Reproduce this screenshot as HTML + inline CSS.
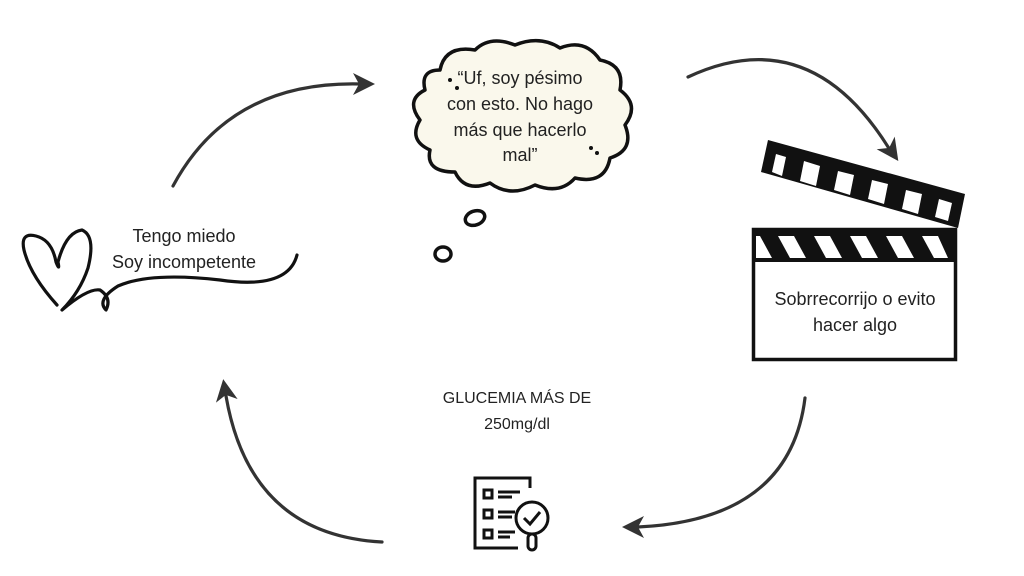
<!DOCTYPE html>
<html><head><meta charset="utf-8"><style>
html,body{margin:0;padding:0;background:#fff;}
svg{display:block;}
text{font-family:"Liberation Sans",sans-serif;fill:#222;}
</style></head><body>
<svg width="1024" height="576" viewBox="0 0 1024 576" xmlns="http://www.w3.org/2000/svg">
<g fill="none" stroke="#333" stroke-width="3.2" stroke-linecap="round">
<path d="M173,186 Q230,80 362,84"/>
<path d="M688,77 Q810,20 890,150"/>
<path d="M805,398 Q790,520 638,527"/>
<path d="M382,542 Q250,535 226,396"/>
</g>
<defs>
<marker id="ah2" markerWidth="22" markerHeight="22" refX="11" refY="11" orient="auto" markerUnits="userSpaceOnUse" viewBox="0 0 22 22">
<path d="M0,0 L22,11 L0,22 L6,11 Z" fill="#333"/>
</marker>
</defs>
<g fill="none" stroke="none">
<path d="M350,84 L364,84" marker-end="url(#ah2)"/>
<path d="M885,142 L892,152" marker-end="url(#ah2)"/>
<path d="M645,527 L633,527" marker-end="url(#ah2)"/>
<path d="M227,402 L225,390" marker-end="url(#ah2)"/>
</g>

<!-- cloud -->
<path d="M440,70 Q445,45 475,50 Q490,35 515,45 Q540,35 560,48 Q585,38 600,60 Q625,65 620,90 Q640,105 625,125 Q635,150 610,158 Q605,185 575,178 Q560,195 535,185 Q510,198 490,183 Q465,193 455,172 Q425,172 430,150 Q408,140 420,120 Q405,100 425,90 Q420,70 440,70 Z" fill="#faf8ec" stroke="#111" stroke-width="3.5" stroke-linejoin="round"/>
<ellipse cx="475" cy="218" rx="10" ry="7" fill="none" stroke="#111" stroke-width="3.5" transform="rotate(-20 475 218)"/>
<ellipse cx="443" cy="254" rx="8" ry="7" fill="none" stroke="#111" stroke-width="3.5"/>
<circle cx="450" cy="80" r="2" fill="#111"/><circle cx="457" cy="88" r="2" fill="#111"/>
<circle cx="591" cy="148" r="2" fill="#111"/><circle cx="597" cy="153" r="2" fill="#111"/>
<g font-size="18" text-anchor="middle">
<text x="520" y="84">“Uf, soy pésimo</text>
<text x="520" y="110">con esto. No hago</text>
<text x="520" y="136">más que hacerlo</text>
<text x="520" y="161">mal”</text>
</g>

<!-- clapper -->
<polygon points="768,140 965,194 958,228 761,172" fill="#111"/>
<g fill="#fff">
<polygon points="776,154 786,157 782,176 772,172"/>
<polygon points="804,161 820,166 816,186 800,181"/>
<polygon points="838,171 854,175 850,195 834,190"/>
<polygon points="872,180 888,184 884,204 868,199"/>
<polygon points="906,190 922,194 918,214 902,209"/>
<polygon points="939,199 952,203 948,221 935,217"/>
</g>
<rect x="753.5" y="229.5" width="202" height="130" fill="#fff" stroke="#111" stroke-width="3.5"/>
<rect x="752" y="228" width="205" height="34" fill="#111"/>
<g fill="#fff">
<polygon points="756,236 760,236 772,258 756,258"/>
<polygon points="778,236 794,236 806,258 790,258"/>
<polygon points="814,236 830,236 842,258 826,258"/>
<polygon points="850,236 866,236 878,258 862,258"/>
<polygon points="886,236 902,236 914,258 898,258"/>
<polygon points="922,236 938,236 948,258 934,258"/>
</g>
<g font-size="18" text-anchor="middle">
<text x="855" y="305">Sobrrecorrijo o evito</text>
<text x="855" y="331">hacer algo</text>
</g>

<!-- heart -->
<path d="M57,305 Q30,275 24,250 Q20,232 36,236 Q52,240 56,262 Q60,272 58,262 Q66,232 82,230 Q96,236 88,268 Q80,292 62,310 Q88,288 100,290 Q112,298 106,310 Q96,300 118,286 Q150,272 220,280 Q288,290 297,255" fill="none" stroke="#111" stroke-width="3.2" stroke-linecap="round" stroke-linejoin="round"/>
<g font-size="18" text-anchor="middle">
<text x="184" y="242">Tengo miedo</text>
<text x="184" y="268">Soy incompetente</text>
</g>

<!-- glucemia -->
<g font-size="16" text-anchor="middle">
<text x="517" y="403">GLUCEMIA MÁS DE</text>
<text x="517" y="429">250mg/dl</text>
</g>

<!-- checklist icon -->
<g fill="none" stroke="#111" stroke-width="3">
<path d="M530,488 L530,478 L475,478 L475,548 L518,548"/>
<rect x="484" y="490" width="8" height="8"/>
<rect x="484" y="510" width="8" height="8"/>
<rect x="484" y="530" width="8" height="8"/>
<path d="M498,492 L520,492 M498,497 L512,497 M498,512 L515,512 M498,517 L512,517 M498,532 L515,532 M498,537 L510,537"/>
<circle cx="532" cy="518" r="16"/>
<path d="M524,518 L530,524 L540,512"/>
<rect x="528" y="534" width="8" height="16" rx="4"/>
</g>
</svg>
</body></html>
